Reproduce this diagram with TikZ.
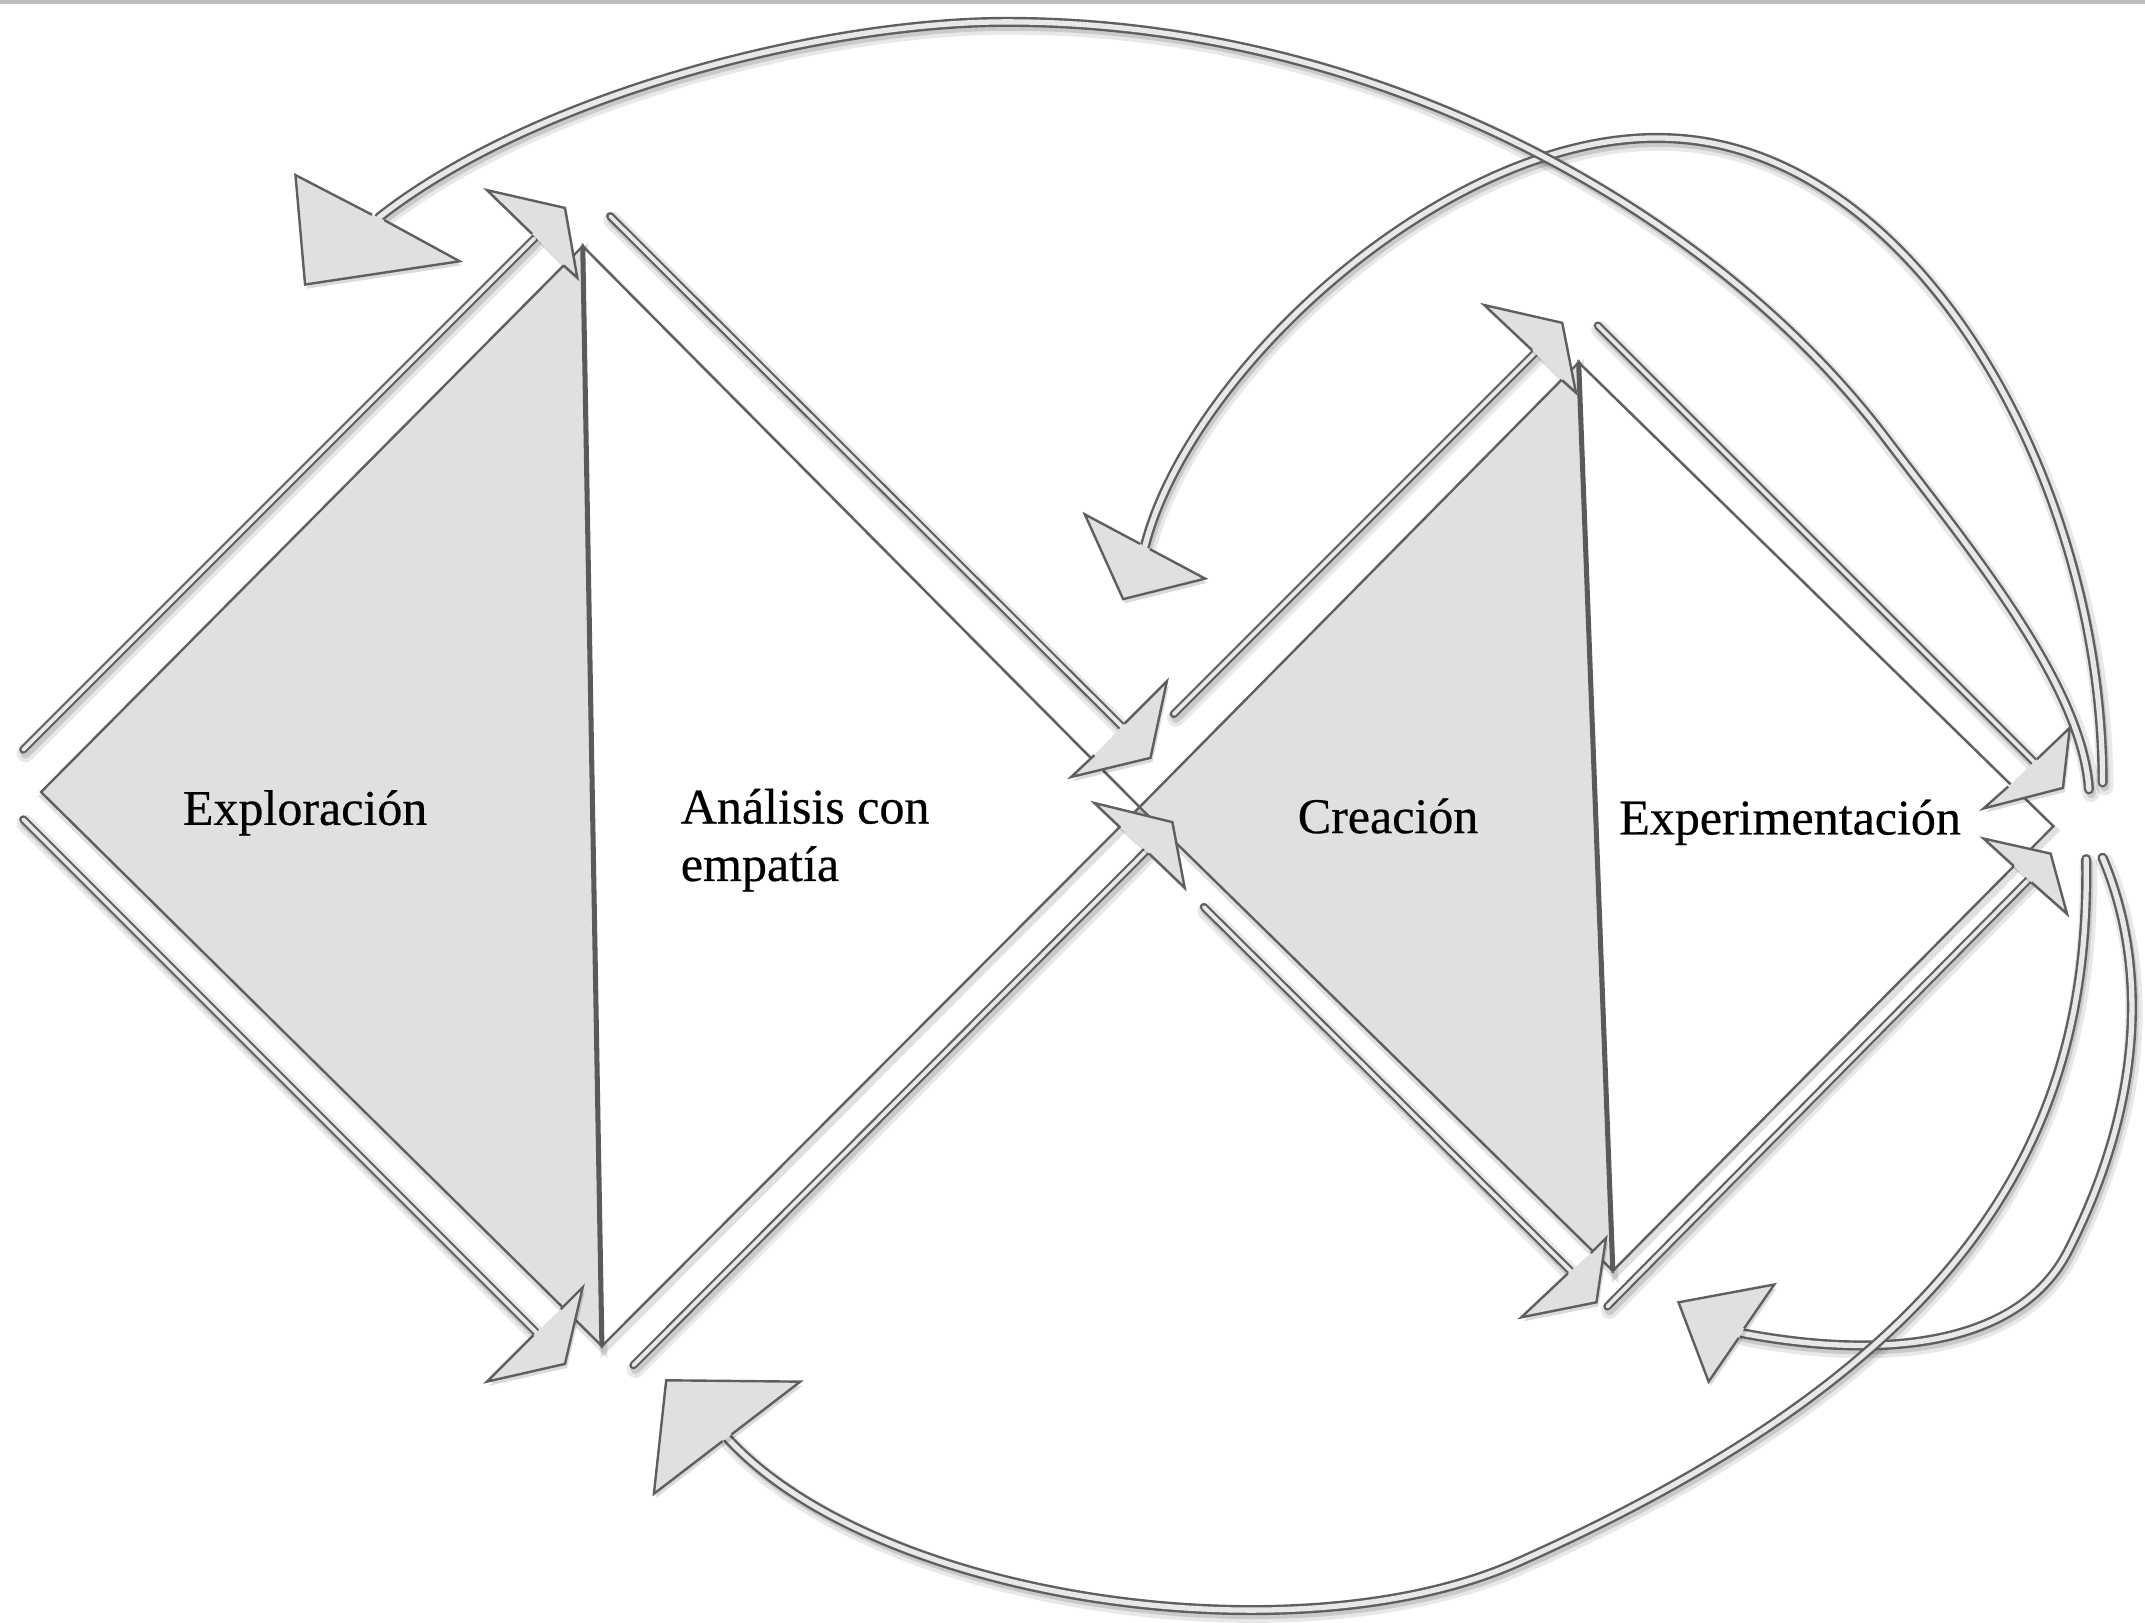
\documentclass[tikz,border=0pt]{standalone}
\usepackage{fontspec}
\setmainfont{Liberation Serif}
\newfontfamily\lblfont{Liberation Serif}[FakeBold=0.45]
\definecolor{edgec}{RGB}{95,95,95}
\definecolor{vlinec}{RGB}{90,90,90}
\definecolor{fillc}{RGB}{224,224,224}
\definecolor{shaftin}{RGB}{232,232,232}
\definecolor{topbar}{RGB}{190,190,190}
\newcommand\mytriangles[1]{%
  \path[#1] (L) -- (T) -- (B) -- cycle;
  \path[#1] (T) -- (R) -- (B) -- cycle;
  \path[#1] (R) -- (T2) -- (B2) -- cycle;
  \path[#1] (T2) -- (R2) -- (B2) -- cycle;}
\newcommand\myshafts[1]{%
  \foreach \s in {a,b,c,d,e,g,h,i} {\path[#1] (s\s1) -- (s\s2);}}
\newcommand\myarcsA[1]{%
  \path[#1] (837,399) .. controls (870,270) and (1060,95) .. (1219,101)
     .. controls (1400,107) and (1537,350) .. (1537,572);
  \path[#1] (1527,577) .. controls (1522,500) and (1439,400) .. (1379,321)
     .. controls (1249,149) and (1000,16) .. (736,16)
     .. controls (600,16) and (390,70) .. (277,159);}
\newcommand\myarcsB[1]{%
  \path[#1] (1537,627) .. controls (1568,700) and (1570,800) .. (1512,914)
     .. controls (1477,983) and (1380,995) .. (1273,974.5);
  \path[#1] (1525,628) .. controls (1528,820) and (1450,990) .. (1112,1141)
     .. controls (950,1215) and (640,1170) .. (531.5,1051);}
\newcommand\myheads[1]{%
  \path[#1] (389,171) -- (356,139) -- (413,152) -- (422,203) -- (412,194);
  \path[#1] (390,976) -- (356,1010) -- (413,997) -- (426,941) -- (410,957);
  \path[#1] (840,624) -- (866,649) -- (857,601) -- (800,587) -- (819,605);
  \path[#1] (822,529) -- (853,498) -- (841,554) -- (783,568) -- (800,552);
  \path[#1] (1120,256) -- (1085,223) -- (1142,236) -- (1152,287) -- (1142,278);
  \path[#1] (1146,931) -- (1112,963) -- (1167,952) -- (1174,905) -- (1163,916);
  \path[#1] (1489,555) -- (1513,532) -- (1508,576) -- (1450,591) -- (1468,575);
  \path[#1] (1485,645) -- (1511,668) -- (1499,624) -- (1450,613) -- (1472,633);
  \path[#1] (272,157) -- (216,128) -- (223,208) -- (336,191) -- (281,161);
  \path[#1] (833.5,397.6) -- (793,376) -- (821,438) -- (881,423) -- (840.5,401.4);
  \path[#1] (1275,971) -- (1297,939) -- (1227,952) -- (1249,1010) -- (1271,978);
  \path[#1] (534.7,1048.6) -- (585,1010) -- (487,1009) -- (478,1092) -- (528.3,1053.4);}
\begin{document}
\begin{tikzpicture}[x=0.1mm,y=-0.1mm,
  tri/.style={draw=edgec,line width=0.5pt,line join=miter},
  grayfill/.style={tri,fill=fillc},
  whitefill/.style={tri,fill=white},
  vline/.style={draw=vlinec,line width=1.05pt},
  shaft/.style={draw=edgec,line width=0.45pt,double=shaftin,double distance=0.8pt,line cap=round},
  arcshaft/.style={draw=edgec,line width=0.5pt,double=shaftin,double distance=1.1pt,line cap=round},
  head/.style={fill=fillc,draw=edgec,line width=0.5pt,line join=miter},
  shadowwide/.style={draw=black,opacity=0.09,line width=3.6pt,line cap=round},
  shadownarrow/.style={draw=black,opacity=0.13,line width=2pt,line cap=round},
  shadowthin/.style={draw=black,opacity=0.12,line width=1.4pt},
  shadowfill/.style={fill=black,opacity=0.14},
  lbl/.style={anchor=base west,inner sep=0pt,font=\lblfont\fontsize{10.4pt}{12pt}\selectfont}]
\useasboundingbox (0,0) rectangle (1568,1186);
\fill[topbar] (0,0) rectangle (1568,3);

% diamond corners
\coordinate (L) at (30,579);
\coordinate (T) at (426,180);
\coordinate (B) at (440,984);
\coordinate (R) at (833,590);
\coordinate (T2) at (1154,265);
\coordinate (B2) at (1179,929);
\coordinate (R2) at (1501,604);
% edge shaft ends
\coordinate (sa1) at (17,548);   \coordinate (sa2) at (391,174);
\coordinate (sb1) at (17,599);   \coordinate (sb2) at (392,974);
\coordinate (sc1) at (463,998);  \coordinate (sc2) at (838,622);
\coordinate (sd1) at (446,158);  \coordinate (sd2) at (820,531);
\coordinate (se1) at (858,522);  \coordinate (se2) at (1122,258);
\coordinate (sg1) at (880,663);  \coordinate (sg2) at (1148,929);
\coordinate (sh1) at (1168,238); \coordinate (sh2) at (1487,557);
\coordinate (si1) at (1175,955); \coordinate (si2) at (1483,643);

% shadows
\begin{scope}[transform canvas={shift={(1.5,3)}}]
  \mytriangles{shadowthin}
  \myshafts{shadowwide}
  \myshafts{shadownarrow}
  \myarcsA{shadowwide}
  \myarcsA{shadownarrow}
  \myarcsB{shadowwide}
  \myarcsB{shadownarrow}
\end{scope}

% triangles
\draw[grayfill] (L) -- (T) -- (B) -- cycle;
\draw[whitefill] (T) -- (R) -- (B) -- cycle;
\draw[grayfill] (R) -- (T2) -- (B2) -- cycle;
\draw[whitefill] (T2) -- (R2) -- (B2) -- cycle;
\draw[vline] (T) -- (B);
\draw[vline] (T2) -- (B2);

% straight shafts and curved shafts
\myshafts{shaft}
\myarcsA{arcshaft}
\myarcsB{arcshaft}

% heads with shadows
\begin{scope}[transform canvas={shift={(1.5,3)}}]
  \myheads{shadowfill}
\end{scope}
\myheads{head}

% labels
\node[lbl] (explo) at (133,603) {Exploración};
\node[lbl] (ana1) at (497,602) {Análisis con};
\node[lbl] (ana2) at (497,644) {empatía};
\node[lbl] (crea) at (948,609) {Creación};
\node[lbl] (expe) at (1183,610) {Experimentación};
\end{tikzpicture}
\end{document}
